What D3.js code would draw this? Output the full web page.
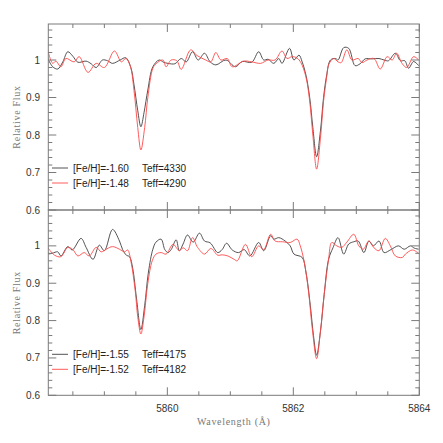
<!DOCTYPE html>
<html>
<head>
<meta charset="utf-8">
<script src="https://cdn.jsdelivr.net/npm/d3@7"></script>
<style>
  body { margin: 0; background: #fff; }
  svg { display: block; }
</style>
</head>
<body>
<div id="chart"></div>
<script>
// spectra: [wavelength (A), relative flux]

const topBlack = [
  [5858.10,1.005],[5858.18,0.982],[5858.26,0.976],[5858.34,0.995],[5858.42,1.022],[5858.50,1.010],
  [5858.58,0.994],[5858.71,0.997],[5858.79,0.990],[5858.87,0.980],[5858.97,1.000],[5859.05,0.998],
  [5859.13,0.991],[5859.25,1.000],[5859.34,1.006],[5859.42,0.980],[5859.47,0.935],[5859.53,0.865],
  [5859.58,0.822],[5859.63,0.860],[5859.69,0.920],[5859.77,0.982],[5859.87,1.000],[5859.94,0.994],
  [5860.01,0.991],[5860.12,0.990],[5860.22,1.004],[5860.30,0.995],[5860.40,1.022],[5860.49,1.000],
  [5860.59,1.018],[5860.68,0.995],[5860.77,0.987],[5860.93,1.000],[5861.08,0.982],[5861.19,0.996],
  [5861.34,0.994],[5861.45,1.022],[5861.53,1.000],[5861.60,1.002],[5861.69,0.991],[5861.77,1.004],
  [5861.82,0.991],[5861.94,1.031],[5862.01,1.000],[5862.09,1.013],[5862.14,0.995],[5862.20,0.960],
  [5862.26,0.900],[5862.31,0.820],[5862.37,0.742],[5862.43,0.810],[5862.48,0.900],[5862.53,0.960],
  [5862.59,1.000],[5862.67,1.004],[5862.71,1.000],[5862.80,1.033],[5862.88,1.031],[5862.98,0.985],
  [5863.06,0.990],[5863.14,1.003],[5863.25,1.003],[5863.36,1.004],[5863.44,1.000],[5863.51,0.998],
  [5863.62,1.018],[5863.70,0.998],[5863.77,0.998],[5863.83,0.978],[5863.91,0.996],[5863.99,0.985]
];

const topRed = [
  [5858.10,1.027],[5858.18,0.991],[5858.23,0.997],[5858.31,0.982],[5858.39,1.004],[5858.52,0.995],
  [5858.60,1.009],[5858.74,0.967],[5858.87,0.991],[5859.00,0.980],[5859.16,1.024],[5859.27,0.995],
  [5859.34,1.004],[5859.41,0.985],[5859.47,0.920],[5859.53,0.820],[5859.58,0.760],[5859.64,0.820],
  [5859.69,0.900],[5859.77,0.978],[5859.82,0.990],[5859.93,1.000],[5859.98,0.982],[5860.06,1.000],
  [5860.15,0.998],[5860.22,0.975],[5860.37,1.027],[5860.47,1.012],[5860.61,1.000],[5860.69,0.995],
  [5860.77,1.020],[5860.85,1.000],[5860.95,1.004],[5861.03,0.982],[5861.21,0.997],[5861.34,0.995],
  [5861.48,0.991],[5861.60,1.000],[5861.71,1.000],[5861.82,1.024],[5861.90,1.004],[5861.98,1.009],
  [5862.06,1.005],[5862.12,0.993],[5862.20,0.955],[5862.26,0.890],[5862.31,0.800],[5862.37,0.709],
  [5862.43,0.790],[5862.48,0.890],[5862.53,0.955],[5862.56,0.987],[5862.64,1.004],[5862.71,0.995],
  [5862.76,0.993],[5862.85,1.027],[5862.93,1.000],[5863.03,1.004],[5863.09,0.993],[5863.17,1.000],
  [5863.28,1.004],[5863.38,0.976],[5863.49,1.009],[5863.57,1.000],[5863.64,1.018],[5863.73,0.990],
  [5863.80,0.980],[5863.91,1.009],[5863.99,1.000]
];

const bottomBlack = [
  [5858.10,0.978],[5858.17,0.980],[5858.26,0.984],[5858.31,0.973],[5858.42,0.998],[5858.49,0.989],
  [5858.63,1.020],[5858.71,0.996],[5858.82,0.964],[5858.92,1.002],[5859.00,0.987],[5859.13,1.044],
  [5859.24,1.013],[5859.29,0.990],[5859.35,0.975],[5859.40,0.971],[5859.45,0.940],[5859.51,0.860],
  [5859.58,0.776],[5859.64,0.840],[5859.70,0.930],[5859.77,0.991],[5859.82,1.010],[5859.90,1.018],
  [5859.96,0.990],[5860.01,0.982],[5860.06,0.990],[5860.14,1.016],[5860.19,0.987],[5860.25,1.005],
  [5860.32,1.029],[5860.41,1.010],[5860.51,1.034],[5860.59,1.013],[5860.68,1.008],[5860.80,0.982],
  [5860.87,0.990],[5860.94,1.007],[5861.03,0.989],[5861.13,0.982],[5861.22,0.990],[5861.31,0.973],
  [5861.45,1.009],[5861.53,0.987],[5861.64,1.027],[5861.69,1.018],[5861.77,1.022],[5861.87,1.013],
  [5861.95,1.000],[5862.01,0.978],[5862.14,0.969],[5862.20,0.930],[5862.27,0.840],[5862.32,0.760],
  [5862.37,0.707],[5862.43,0.770],[5862.49,0.870],[5862.56,0.964],[5862.63,0.995],[5862.71,1.022],
  [5862.80,0.978],[5862.88,1.005],[5862.96,1.011],[5863.03,1.013],[5863.12,0.982],[5863.20,1.013],
  [5863.27,1.000],[5863.36,1.013],[5863.44,0.982],[5863.55,0.990],[5863.67,1.000],[5863.76,0.991],
  [5863.86,1.000],[5863.92,0.994],[5863.99,0.991]
];

const bottomRed = [
  [5858.10,0.996],[5858.21,0.975],[5858.31,0.971],[5858.42,0.996],[5858.50,0.990],[5858.58,0.973],
  [5858.68,0.982],[5858.76,0.973],[5858.87,0.996],[5858.95,0.984],[5859.04,0.992],[5859.13,0.998],
  [5859.24,0.991],[5859.32,0.984],[5859.37,0.989],[5859.42,0.960],[5859.49,0.880],[5859.53,0.810],
  [5859.58,0.764],[5859.63,0.810],[5859.69,0.900],[5859.76,0.960],[5859.82,0.978],[5859.90,0.982],
  [5859.98,0.978],[5860.09,1.004],[5860.19,0.987],[5860.25,0.995],[5860.32,0.987],[5860.40,1.022],
  [5860.48,0.996],[5860.59,0.978],[5860.69,0.993],[5860.80,0.975],[5860.87,0.976],[5860.96,0.973],
  [5861.06,0.964],[5861.11,0.960],[5861.24,1.004],[5861.34,0.971],[5861.45,1.000],[5861.53,0.990],
  [5861.64,1.031],[5861.71,1.013],[5861.83,1.011],[5861.95,1.009],[5862.06,1.018],[5862.11,1.000],
  [5862.17,0.960],[5862.24,0.880],[5862.30,0.780],[5862.37,0.698],[5862.43,0.770],[5862.49,0.870],
  [5862.56,0.964],[5862.61,1.009],[5862.69,1.000],[5862.77,0.996],[5862.85,1.010],[5862.96,1.031],
  [5863.04,1.000],[5863.11,0.991],[5863.20,1.013],[5863.28,0.995],[5863.36,0.987],[5863.46,1.020],
  [5863.54,1.000],[5863.62,0.973],[5863.73,0.969],[5863.78,0.978],[5863.89,0.989],[5863.99,0.980]
];

const topLegend = ["[Fe/H]=-1.60", "[Fe/H]=-1.48"];
const topTeff = ["Teff=4330", "Teff=4290"];
const bottomLegend = ["[Fe/H]=-1.55", "[Fe/H]=-1.52"];
const bottomTeff = ["Teff=4175", "Teff=4182"];

const xTickLabels = [5860, 5862, 5864];
const yTickLabels = [0.6, 0.7, 0.8, 0.9, 1];

// layout
const width = 443, height = 443;
const left = 48.3, right = 419.3;
const panelTops = [24, 210];
const panelBottoms = [210, 395.3];
const blackColor = "#404040";
const redColor = "#ff4a4a";
const axisColor = "#7a7a7a";

const svg = d3.select("#chart").append("svg")
  .attr("width", width)
  .attr("height", height);

const x = d3.scaleLinear().domain([5858.11, 5864]).range([left, right]);

const panels = [
  { black: topBlack, red: topRed, names: topLegend, teffs: topTeff },
  { black: bottomBlack, red: bottomRed, names: bottomLegend, teffs: bottomTeff }
];

panels.forEach((p, i) => {
  const top = panelTops[i], bottom = panelBottoms[i];
  const y = d3.scaleLinear().domain([0.6, 1.096]).range([bottom, top]);

  const g = svg.append("g");

  g.append("clipPath").attr("id", "clip" + i)
    .append("rect")
    .attr("x", left).attr("y", top)
    .attr("width", right - left).attr("height", bottom - top);

  const line = d3.line()
    .x(d => x(d[0]))
    .y(d => y(d[1]))
    .curve(d3.curveCatmullRom.alpha(0.5));

  const lines = g.append("g").attr("clip-path", "url(#clip" + i + ")");
  lines.append("path").datum(p.black)
    .attr("d", line).attr("fill", "none")
    .attr("stroke", blackColor).attr("stroke-width", 0.9);
  lines.append("path").datum(p.red)
    .attr("d", line).attr("fill", "none")
    .attr("stroke", redColor).attr("stroke-width", 0.9);

  // frame
  g.append("rect")
    .attr("x", left).attr("y", top)
    .attr("width", right - left).attr("height", bottom - top)
    .attr("fill", "none").attr("stroke", axisColor).attr("stroke-width", 1);

  // ticks, pointing inward on all four sides
  const yMinor = d3.range(0.6, 1.0961, 0.02);
  const xMinor = d3.range(5858.5, 5864.01, 0.5);
  const ticks = g.append("g").attr("stroke", axisColor).attr("stroke-width", 1);

  yMinor.forEach(v => {
    const major = Math.abs(v * 10 - Math.round(v * 10)) < 1e-6;
    const len = major ? 8 : 4;
    const yy = y(v);
    ticks.append("line").attr("x1", left).attr("x2", left + len).attr("y1", yy).attr("y2", yy);
    ticks.append("line").attr("x1", right).attr("x2", right - len).attr("y1", yy).attr("y2", yy);
  });
  xMinor.forEach(v => {
    const major = Math.abs(v / 2 - Math.round(v / 2)) < 1e-6;
    const len = major ? 8 : 4;
    const xx = x(v);
    ticks.append("line").attr("x1", xx).attr("x2", xx).attr("y1", bottom).attr("y2", bottom - len);
    ticks.append("line").attr("x1", xx).attr("x2", xx).attr("y1", top).attr("y2", top + len);
  });

  // y tick labels
  g.append("g").selectAll("text")
    .data(yTickLabels)
    .enter().append("text")
    .attr("x", 40)
    .attr("y", d => y(d))
    .attr("dy", "0.35em")
    .attr("text-anchor", "end")
    .attr("font-family", "Liberation Sans, Arial, sans-serif")
    .attr("font-size", 10)
    .attr("fill", "#333")
    .text(d => d);

  // y axis title
  g.append("text")
    .attr("transform", `translate(20,${(top + bottom) / 2}) rotate(-90)`)
    .attr("text-anchor", "middle")
    .attr("font-family", "Liberation Serif, serif")
    .attr("font-size", 10)
    .attr("letter-spacing", 0.7)
    .attr("fill", "#777")
    .text("Relative Flux");

  // legend
  const legendY0 = i === 0 ? 168 : 354.3;
  const leg = g.append("g");
  [blackColor, redColor].forEach((c, k) => {
    const ly = legendY0 + k * 15;
    leg.append("line")
      .attr("x1", 52).attr("x2", 68).attr("y1", ly).attr("y2", ly)
      .attr("stroke", c).attr("stroke-width", 0.9);
    leg.append("text")
      .attr("x", 73).attr("y", ly).attr("dy", "0.35em")
      .attr("font-family", "Liberation Sans, Arial, sans-serif")
      .attr("font-size", 10).attr("fill", "#222")
      .text(p.names[k]);
    leg.append("text")
      .attr("x", 142).attr("y", ly).attr("dy", "0.35em")
      .attr("font-family", "Liberation Sans, Arial, sans-serif")
      .attr("font-size", 10).attr("fill", "#222")
      .text(p.teffs[k]);
  });
});

// x tick labels, bottom panel only
svg.append("g").selectAll("text")
  .data(xTickLabels)
  .enter().append("text")
  .attr("x", d => x(d))
  .attr("y", 412)
  .attr("text-anchor", "middle")
  .attr("font-family", "Liberation Sans, Arial, sans-serif")
  .attr("font-size", 10)
  .attr("fill", "#333")
  .text(d => d);

svg.append("text")
  .attr("x", (left + right) / 2)
  .attr("y", 425)
  .attr("text-anchor", "middle")
  .attr("font-family", "Liberation Serif, serif")
  .attr("font-size", 10)
  .attr("letter-spacing", 0.7)
  .attr("fill", "#777")
  .text("Wavelength (Å)");
</script>
</body>
</html>
